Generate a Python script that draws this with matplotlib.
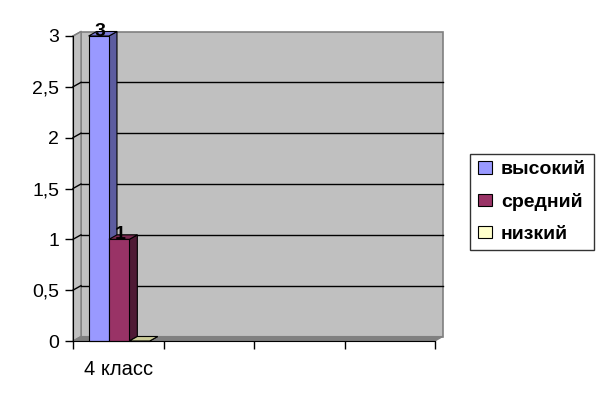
import matplotlib
matplotlib.use("Agg")
import matplotlib.pyplot as plt
from matplotlib.patches import Polygon, Patch
import matplotlib.transforms as mtransforms
import numpy as np

categories = ["4 класс", "", "", ""]
series_names = ["высокий", "средний", "низкий"]
values_high = [3, np.nan, np.nan, np.nan]
values_mid = [1, np.nan, np.nan, np.nan]
values_low = [0, np.nan, np.nan, np.nan]
value_labels = ["3", "1", ""]
yticks = [0, 0.5, 1, 1.5, 2, 2.5, 3]
ytick_labels = ["0", "0,5", "1", "1,5", "2", "2,5", "3"]

front_colors = ["#9999ff", "#993366", "#ffffcc"]
side_colors = ["#5c5ca0", "#4f1a35", "#a0a080"]
top_colors = ["#7a7ad6", "#7a2950", "#cccc99"]

plt.rcParams['font.family'] = ['Liberation Sans', 'DejaVu Sans']

W, H, DPI = 600, 405, 100
fig = plt.figure(figsize=(W / DPI, H / DPI), dpi=DPI)
L, R, T, B = 73, 435, 36, 341
ax = fig.add_axes([L / W, (H - B) / H, (R - L) / W, (B - T) / H])
ax.set_xlim(0, len(categories))
ax.set_ylim(0, 3)
ax.patch.set_visible(False)

# depth offset (pixels -> data units)
ddx = len(categories) * 8.0 / (R - L)
ddy = 3.0 * 4.5 / (B - T)

xmax = len(categories)
# back wall
ax.add_patch(Polygon([(ddx, ddy), (xmax + ddx, ddy), (xmax + ddx, 3 + ddy), (ddx, 3 + ddy)],
                     closed=True, facecolor="#c0c0c0", edgecolor="#808080", lw=1.2,
                     zorder=0, clip_on=False))
# side wall
ax.add_patch(Polygon([(0, 0), (ddx, ddy), (ddx, 3 + ddy), (0, 3)],
                     closed=True, facecolor="#c0c0c0", edgecolor="#808080", lw=1.0,
                     zorder=0.5, clip_on=False))
# gridlines
for yv in yticks[1:-1]:
    ax.plot([ddx, xmax + ddx], [yv + ddy, yv + ddy], color="black", lw=1.0, zorder=1, clip_on=False)
    ax.plot([0, ddx], [yv, yv + ddy], color="black", lw=1.0, zorder=1, clip_on=False)
ax.plot([0, ddx], [3, 3 + ddy], color="#808080", lw=1.0, zorder=1, clip_on=False)
# floor
ax.add_patch(Polygon([(0, 0), (xmax, 0), (xmax + ddx, ddy), (ddx, ddy)],
                     closed=True, facecolor="#808080", edgecolor="#808080", lw=0.8,
                     zorder=1.5, clip_on=False))

# bars
bw = 0.225
center = 0.51
x = np.arange(len(categories))
series = [values_high, values_mid, values_low]
label_off = mtransforms.offset_copy(ax.transData, fig=fig, x=1, y=5, units="dots")
for i, vals in enumerate(series):
    xs = x + center + (i - 1) * bw
    ax.bar(xs, vals, width=bw, color=front_colors[i], edgecolor="black", lw=0.8,
           zorder=3 + i, clip_on=False)
    for xc, v in zip(xs, vals):
        if np.isnan(v):
            continue
        x0, x1 = xc - bw / 2, xc + bw / 2
        ax.add_patch(Polygon([(x1, 0), (x1 + ddx, ddy), (x1 + ddx, v + ddy), (x1, v)],
                             closed=True, facecolor=side_colors[i], edgecolor="black",
                             lw=0.8, zorder=2.9 + i, clip_on=False))
        ax.add_patch(Polygon([(x0, v), (x1, v), (x1 + ddx, v + ddy), (x0 + ddx, v + ddy)],
                             closed=True, facecolor=top_colors[i], edgecolor="black",
                             lw=0.8, zorder=3.1 + i, clip_on=False))
        if value_labels[i]:
            ax.text(xc, v, value_labels[i], ha="center", va="center", fontsize=14,
                    fontweight="bold", zorder=10, transform=label_off)

# axes styling
for s in ["top", "right"]:
    ax.spines[s].set_visible(False)
ax.spines["left"].set_color("black")
ax.spines["bottom"].set_color("black")
ax.spines["left"].set_zorder(2)
ax.spines["bottom"].set_zorder(6)
ax.set_yticks(yticks)
ax.set_yticklabels(ytick_labels, fontsize=14)
ax.tick_params(axis="y", direction="out", length=6, width=1, pad=4)
ax.set_xticks(np.arange(len(categories) + 1))
ax.set_xticklabels([])
ax.set_xticks(x + 0.5, minor=True)
ax.set_xticklabels(categories, minor=True, fontsize=14.5)
ax.tick_params(axis="x", which="major", direction="out", length=6, width=1)
ax.tick_params(axis="x", which="minor", length=0, pad=14)

handles = [Patch(facecolor=c, edgecolor="black", lw=0.8) for c in front_colors]
leg = fig.legend(handles, series_names, loc="center left",
                 bbox_to_anchor=(470 / W, (H - 202) / H), bbox_transform=fig.transFigure,
                 frameon=True, fancybox=False, edgecolor="black",
                 handlelength=0.75, handleheight=0.6, handletextpad=0.45,
                 labelspacing=0.75, borderpad=0.4, borderaxespad=0,
                 prop={"weight": "bold", "size": 14})
leg.get_frame().set_linewidth(1.0)

fig.savefig("out.png", dpi=DPI)
